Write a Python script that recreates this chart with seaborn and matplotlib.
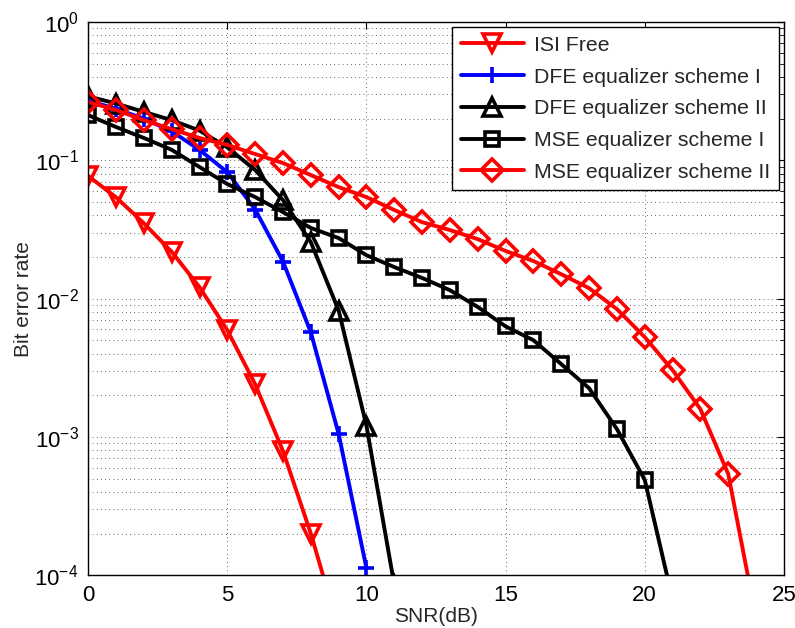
import numpy as np
import pandas as pd
import matplotlib
matplotlib.use("Agg")
import matplotlib.pyplot as plt
import seaborn as sns
from matplotlib.ticker import LogLocator, NullFormatter

sns.set_style("white")
plt.rcParams['font.family'] = ['Liberation Sans', 'DejaVu Sans']
plt.rcParams['mathtext.fontset'] = 'custom'
plt.rcParams['mathtext.rm'] = 'Liberation Sans'
plt.rcParams['mathtext.it'] = 'Liberation Sans:italic'

# SNR grid per curve, BER
snr_isi = [0, 1, 2, 3, 4, 5, 6, 7, 8, 9]
ber_isi = [0.077, 0.054, 0.0350, 0.0218, 0.0121, 0.0059, 0.00240, 7.9e-4, 2.0e-4, 4.1e-5]

snr_dfe1 = [0, 1, 2, 3, 4, 5, 6, 7, 8, 9, 10]
ber_dfe1 = [0.27, 0.235, 0.20, 0.162, 0.119, 0.082, 0.0440, 0.0185, 0.0057, 1.05e-3, 1.12e-4]

snr_dfe2 = [0, 1, 2, 3, 4, 5, 6, 7, 8, 9, 10, 11]
ber_dfe2 = [0.29, 0.257, 0.224, 0.195, 0.164, 0.124, 0.085, 0.0515, 0.0256, 0.0082, 1.2e-3, 8.5e-5]

snr_mse1 = list(range(0, 22))
ber_mse1 = [0.212, 0.174, 0.145, 0.119, 0.0894, 0.0673, 0.0542, 0.0422, 0.0324, 0.0274,
            0.0206, 0.0169, 0.0141, 0.0115, 0.0087, 0.0063, 0.0050, 0.00336, 0.00225,
            0.00114, 4.9e-4, 6.7e-5]

snr_mse2 = list(range(0, 25))
ber_mse2 = [0.264, 0.231, 0.195, 0.168, 0.145, 0.129, 0.111, 0.0955, 0.0782, 0.0640,
            0.0542, 0.0437, 0.0357, 0.0313, 0.0269, 0.0221, 0.0187, 0.0150, 0.0119,
            0.0084, 0.00527, 0.00304, 0.00159, 5.4e-4, 4.9e-5]

labels = ["ISI Free", "DFE equalizer scheme I", "DFE equalizer scheme II",
          "MSE equalizer scheme I", "MSE equalizer scheme II"]
colors = ["#ff0000", "#0000ff", "#000000", "#000000", "#ff0000"]
markers = ["v", "+", "^", "s", "D"]
msizes = [13, 12, 13, 9.5, 11]

series = [(snr_isi, ber_isi), (snr_dfe1, ber_dfe1), (snr_dfe2, ber_dfe2),
          (snr_mse1, ber_mse1), (snr_mse2, ber_mse2)]

fig = plt.figure(figsize=(7.95, 6.28), dpi=100)
ax = fig.add_axes([0.111, 0.084, 0.875, 0.881])

for (x, y), lab, c, m, ms in zip(series, labels, colors, markers, msizes):
    df = pd.DataFrame({"snr": x, "ber": y})
    sns.lineplot(data=df, x="snr", y="ber", ax=ax, color=c, lw=2.8, marker=m,
                 markersize=ms, markerfacecolor="none", markeredgecolor=c,
                 markeredgewidth=2.6, label=lab, sort=False)

ax.set_yscale("log")
ax.set_xlim(0, 25)
ax.set_ylim(1e-4, 1)
ax.set_xticks([0, 5, 10, 15, 20, 25])
ax.yaxis.set_major_locator(LogLocator(base=10, numticks=10))
ax.yaxis.set_minor_locator(LogLocator(base=10, subs=np.arange(2, 10), numticks=20))
ax.yaxis.set_minor_formatter(NullFormatter())

grid_kw = dict(color="#333333", lw=0.6, dashes=(1, 4))
ax.grid(True, which="both", axis="y", **grid_kw)
ax.grid(True, which="major", axis="x", **grid_kw)

ax.tick_params(which="both", direction="in", top=True, right=True, colors="black",
               labelsize=16, pad=7)
ax.tick_params(which="major", length=5, width=0.8)
ax.tick_params(which="minor", length=3, width=0.6)
for s in ax.spines.values():
    s.set_color("black")
    s.set_linewidth(1.0)

ax.set_xlabel("SNR(dB)", fontsize=15, labelpad=1)
ax.set_ylabel("Bit error rate", fontsize=15, labelpad=1)

leg = ax.legend(loc="upper right", fontsize=15.3, frameon=True, fancybox=False,
                edgecolor="black", framealpha=1, borderaxespad=0.25,
                handlelength=3.0, labelspacing=0.6, borderpad=0.4, handletextpad=0.45)
leg.get_frame().set_linewidth(1.0)

fig.savefig("out.png", dpi=100)
